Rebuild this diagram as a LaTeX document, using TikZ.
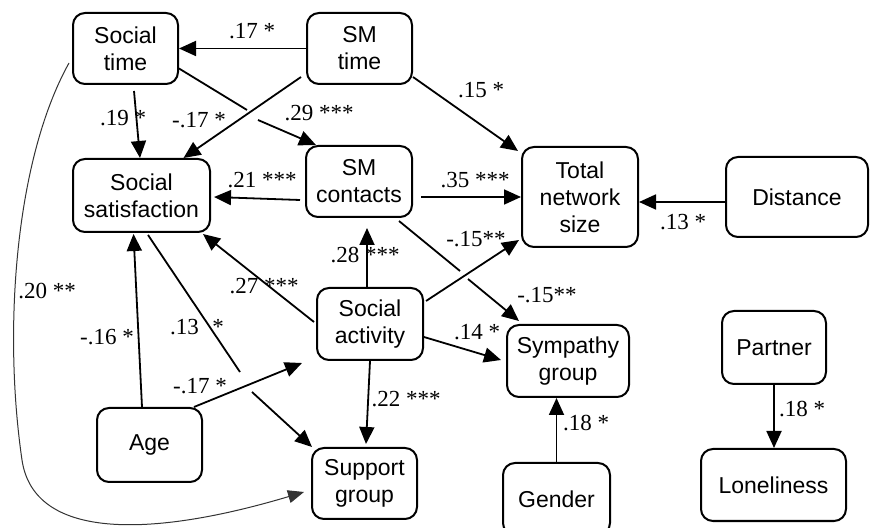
\documentclass[tikz,border=0pt]{standalone}
\usepackage{fontspec}
\setmainfont{Liberation Serif}
\setsansfont{Liberation Sans}
\usepackage{tikz}
\usetikzlibrary{arrows.meta}
\tikzset{
  var/.style={draw, line width=1pt, rounded corners=6pt, align=center,
    inner sep=1pt, font=\sffamily\fontsize{11.5}{13.5}\selectfont},
  link/.style={line width=0.9pt, -{Triangle[length=8.5pt,width=7.5pt]}},
  thinlink/.style={line width=0.5pt, draw=black!80, -{Triangle[length=8pt,width=6.5pt]}},
  coef/.style={inner sep=0pt, font=\fontsize{11.5}{13}\selectfont}
}

\begin{document}
\begin{tikzpicture}[x=0.5pt, y=-0.5pt]
		\useasboundingbox (0,0) rectangle (872,528);
		% variables
		\node[var, minimum width=52.5pt, minimum height=35.5pt] (soctime) at (125.5,48.5) {Social\\time};
		\node[var, minimum width=52.5pt, minimum height=35.5pt] (smtime) at (359.5,48.5) {SM\\time};
		\node[var, minimum width=68.5pt, minimum height=36.5pt] (socsat) at (141.5,195.5) {Social\\satisfaction};
		\node[var, minimum width=53pt, minimum height=35.5pt] (smcont) at (359,181.5) {SM\\contacts};
		\node[var, minimum width=58pt, minimum height=50pt] (netsize) at (580,197) {Total\\network\\size};
		\node[var, minimum width=71pt, minimum height=40pt] (dist) at (797,197) {Distance};
		\node[var, minimum width=53pt, minimum height=36pt] (socact) at (370,324) {Social\\activity};
		\node[var, minimum width=52.5pt, minimum height=37pt] (age) at (149.5,445) {Age};
		\node[var, minimum width=52.5pt, minimum height=35.5pt] (support) at (364.5,483.5) {Support\\group};
		\node[var, minimum width=61pt, minimum height=36pt] (sympathy) at (568,361) {Sympathy\\group};
		\node[var, minimum width=53.5pt, minimum height=36pt] (gender) at (556.5,499) {Gender};
		\node[var, minimum width=52pt, minimum height=36.5pt] (partner) at (774,347.5) {Partner};
		\node[var, minimum width=72.5pt, minimum height=36pt] (lonely) at (773.5,485) {Loneliness};
		%
		\coordinate (g1) at (247,110);
		\coordinate (g2) at (258,120);
		\coordinate (h1) at (460,271);
		\coordinate (h2) at (468,279);
		\coordinate (b1) at (240,372);
		\coordinate (b2) at (252,392);
		% paths
		\draw[link] (smtime.west) -- (soctime.east);
		\draw[link] ([shift={(-5,-8)}]smtime.south west) -- ([shift={(42,0)}]socsat.north);
		\draw[link] ([shift={(0,20)}]soctime.east) -- (g1) (g2) -- ([shift={(11,0)}]smcont.north west);
		\draw[link] ([shift={(8.5,6)}]soctime.south) -- ([shift={(-1.5,0)}]socsat.north);
		\draw[link] ([shift={(0,-8)}]smtime.south east) -- ([shift={(-3,5)}]netsize.north west);
		\draw[link] ([shift={(-5,18.5)}]smcont.west) -- ([shift={(3,1.5)}]socsat.east);
		\draw[link] ([shift={(8,15.5)}]smcont.east) -- (netsize.west);
		\draw[link] ([shift={(-14,3)}]smcont.south east) -- (h1) (h2) -- ([shift={(13,-3)}]sympathy.north west);
		\draw[link] ([shift={(2,14)}]socact.north east) -- ([shift={(-2,-8)}]netsize.south west);
		\draw[link] ([shift={(-3,0)}]socact.north) -- ([shift={(8,10)}]smcont.south);
		\draw[link] ([shift={(-2,-2)}]socact.west) -- ([shift={(-8,1)}]socsat.south east);
		\draw[link] ([shift={(0,13)}]socact.east) -- ([shift={(-5,-1)}]sympathy.west);
		\draw[link] (socact.south) -- ([shift={(1.5,-3)}]support.north);
		\draw[link] ([shift={(-7.5,0)}]age.north) -- ([shift={(-8,1)}]socsat.south);
		\draw[link] ([shift={(-9,0)}]age.north east) -- ([shift={(-14,2)}]socact.south west);
		\draw[link] ([shift={(6.5,2)}]socsat.south) -- (b1) (b2) -- ([shift={(1,0)}]support.north west);
		\draw[thinlink] ([shift={(-3,14.5)}]soctime.west) .. controls (15,160) and (3,330) .. (22,460)
			.. controls (33.8,540) and (150,538) .. ([shift={(-7,8.5)}]support.west);
		\draw[link] (gender.north) -- (gender.north |- sympathy.south);
		\draw[link] (partner.south) -- (partner.south |- lonely.north);
		\draw[link] ([shift={(0,5)}]dist.west) -- ([shift={(0,5)}]netsize.east);
		% coefficients
		\node[coef] (c1) at (252,31) {.17 *};
		\node[coef] (c2) at (199,120) {-.17 *};
		\node[coef] (c3) at (123,118) {.19 *};
		\node[coef] (c4) at (319,113) {.29 ***};
		\node[coef] (c5) at (262,180) {.21 ***};
		\node[coef] (c6) at (481,90) {.15 *};
		\node[coef] (c7) at (475,180) {.35 ***};
		\node[coef] (c8) at (476,239) {-.15**};
		\node[coef] (c9) at (683,222) {.13 *};
		\node[coef] (c10) at (365,255) {.28 ***};
		\node[coef] (c11) at (264,286) {.27 ***};
		\node[coef] (c12) at (47,291) {.20 **};
		\node[coef] (c13) at (107,337) {-.16 *};
		\node[coef] (c14) at (197,327) {.13\hspace{4pt} *};
		\node[coef] (c15) at (200,386) {-.17 *};
		\node[coef] (c16) at (406,399) {.22 ***};
		\node[coef] (c17) at (477,332) {.14 *};
		\node[coef] (c18) at (547,295) {-.15**};
		\node[coef] (c19) at (586,423) {.18 *};
		\node[coef] (c20) at (802,409) {.18 *};
	\end{tikzpicture}
\end{document}
